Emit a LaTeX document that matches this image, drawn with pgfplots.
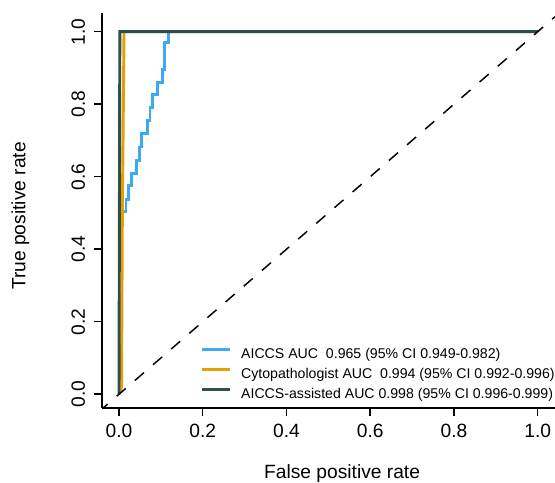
\documentclass[border=0pt]{standalone}
\usepackage{fontspec}
\setmainfont{Liberation Sans}
\usepackage{pgfplots}
\pgfplotsset{compat=1.18}
\definecolor{cblue}{HTML}{3DA9F4}
\definecolor{corange}{HTML}{E69F00}
\definecolor{cdark}{HTML}{2F4F4F}
\begin{document}
\begin{tikzpicture}
\useasboundingbox (0,0) rectangle (416.25pt,361.5pt);
\begin{axis}[
  at={(76.5pt,55.5pt)}, anchor=south west, scale only axis,
  width=339.75pt, height=296.25pt,
  xmin=-0.0406, xmax=1.0413, ymin=-0.038, ymax=1.0516,
  axis x line*=bottom, axis y line*=left,
  axis line style={line width=1.1pt, black},
  tick align=outside, major tick length=6pt,
  tick style={line width=1.1pt, black},
  xtick={0,0.2,0.4,0.6,0.8,1}, ytick={0,0.2,0.4,0.6,0.8,1},
  /pgf/number format/.cd, fixed, fixed zerofill, precision=1, assume math mode=true, /pgfplots/.cd,
  tick label style={font=\fontsize{14.4}{17}\selectfont},
  xticklabel style={anchor=base, yshift=-15.75pt},
  yticklabel style={xshift=-6.75pt, rotate=90, anchor=base},
  every axis x label/.style={at={(axis description cs:0.53,-0.1797)}, anchor=base},
  every axis y label/.style={at={(axis description cs:-0.1689,0.486)}, rotate=90, anchor=base},
  label style={font=\fontsize{14.4}{17}\selectfont},
  xlabel={False positive rate}, ylabel={True positive rate},
  legend style={draw=none, fill=none, inner sep=0pt,
    at={(axis description cs:0.2163,0.0835)}, anchor=west,
    font=\fontsize{10.6}{12}\selectfont, row sep=4.5pt,
    nodes={inner sep=0pt, text height=8pt, text depth=2.5pt}},
  legend cell align=left,
  legend image code/.code={\draw[#1] (0pt,3.8pt) -- (21pt,3.8pt); \path (28.5pt,3.8pt);},
]
\addplot[cblue, line width=2.2pt] coordinates {
(0,0) (0,0.503) (0.0167,0.503) (0.0167,0.537) (0.022,0.537) (0.022,0.576)
(0.029,0.576) (0.029,0.610) (0.042,0.610) (0.042,0.645) (0.048,0.645) (0.048,0.682)
(0.054,0.682) (0.054,0.718) (0.069,0.718) (0.069,0.755) (0.074,0.755) (0.074,0.790)
(0.080,0.790) (0.080,0.826) (0.091,0.826) (0.091,0.861) (0.103,0.861) (0.103,0.897)
(0.108,0.897) (0.108,0.969) (0.118,0.969) (0.118,1) (1,1)};
\addlegendentry{AICCS AUC\ \ 0.965 (95\% CI 0.949-0.982)}
\addplot[corange, line width=2.2pt] coordinates {
(0,0) (0.006,0.02) (0.008,0.5) (0.012,1) (1,1)};
\addlegendentry{Cytopathologist AUC\ \ 0.994 (95\% CI 0.992-0.996)}
\addplot[cdark, line width=2.2pt] coordinates {
(0,0) (0.002,1) (1,1)};
\addlegendentry{AICCS-assisted AUC 0.998 (95\% CI 0.996-0.999)}
\addplot[black, line width=1.1pt, dash pattern=on 9pt off 9pt, dash phase=3.4pt, forget plot]
  coordinates {(-0.0406,-0.0406) (1.0413,1.0413)};
\end{axis}
\end{tikzpicture}
\end{document}
